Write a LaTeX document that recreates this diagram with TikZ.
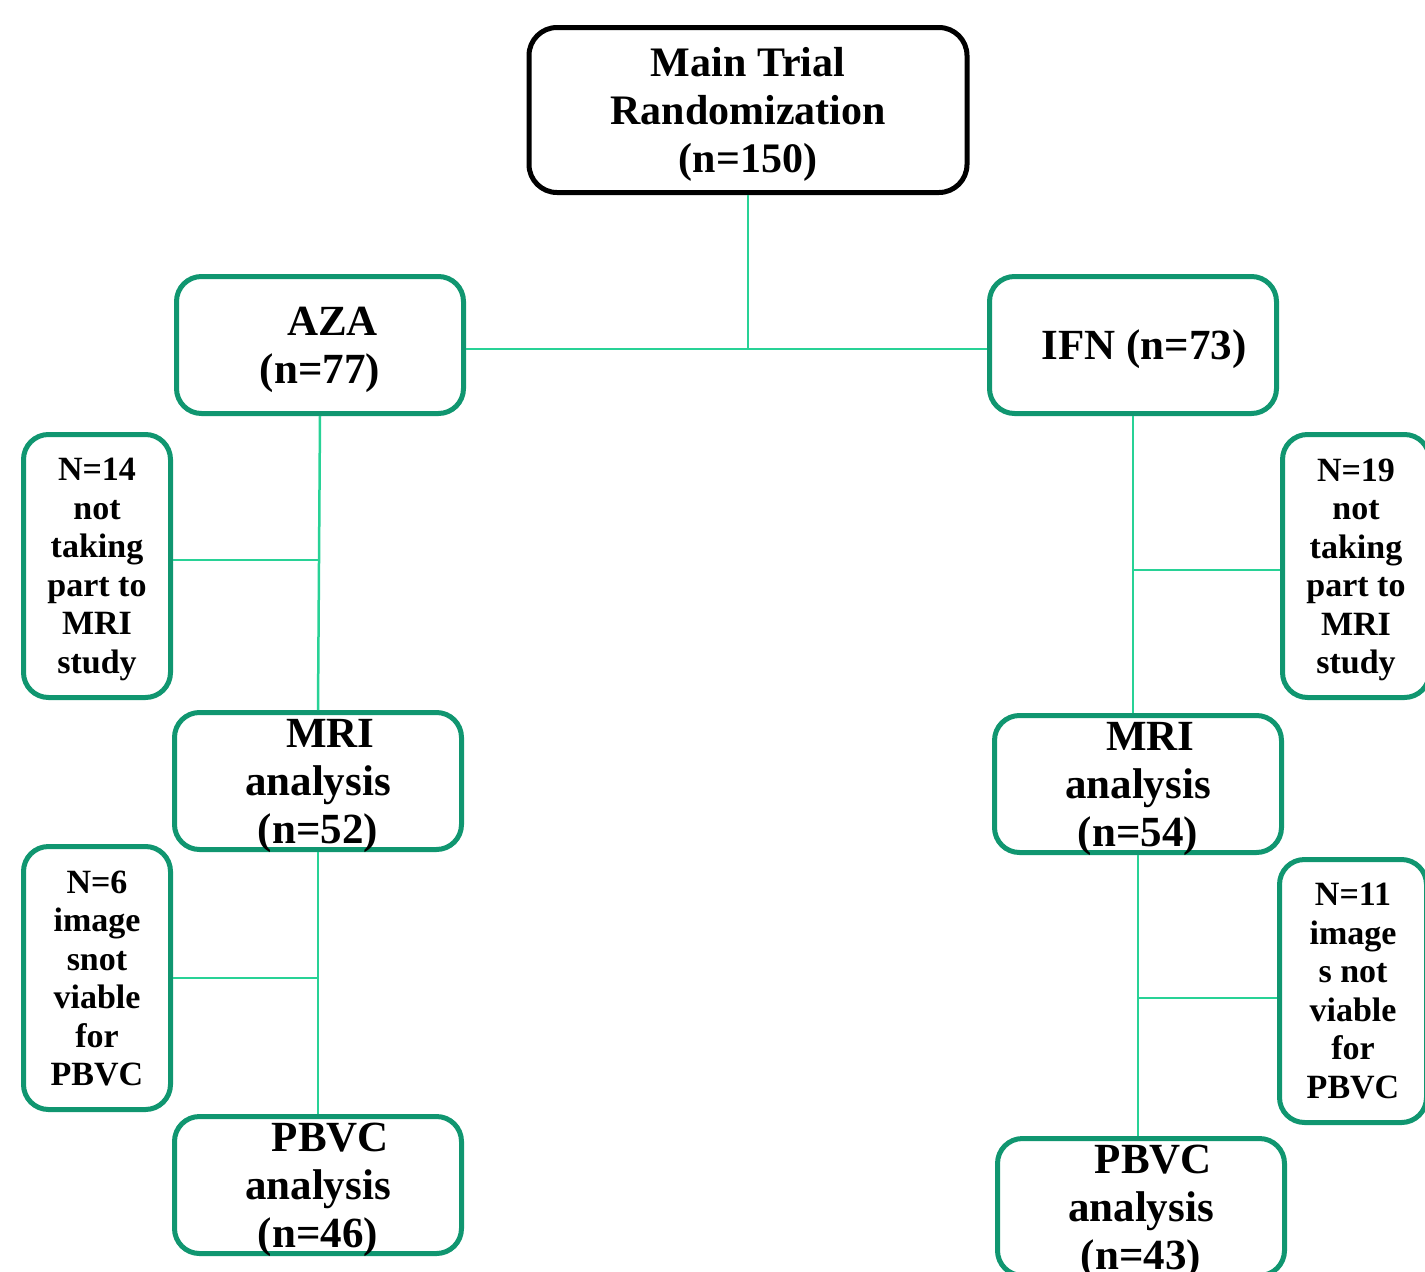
\documentclass[tikz,border=0pt]{standalone}
\usepackage{fontspec}
\setmainfont{Liberation Serif}
\definecolor{boxgreen}{RGB}{16,150,112}
\definecolor{linegreen}{RGB}{40,210,150}
\tikzset{
  mainbox/.style={draw=black, line width=5pt, rounded corners=28pt,
    minimum width=438pt, minimum height=165pt, inner sep=0pt, align=center,
    text depth=0pt, font=\fontsize{42}{48}\selectfont\bfseries},
  armbox/.style={draw=boxgreen, line width=5pt, rounded corners=25pt,
    minimum width=287pt, minimum height=137pt, inner sep=0pt, align=center,
    text depth=0pt, font=\fontsize{43}{48}\selectfont\bfseries},
  sidebox/.style={draw=boxgreen, line width=5pt, rounded corners=25pt,
    minimum width=147pt, minimum height=263pt, inner sep=0pt, align=center,
    text depth=0pt, font=\fontsize{34}{38.5}\selectfont\bfseries},
  link/.style={linegreen, line width=2.5pt}
}
\begin{document}
\begin{tikzpicture}[x=1pt,y=-1pt]
      \useasboundingbox (0,0) rectangle (1425,1272);
      \draw
        (748,110) node[mainbox] (main){Main Trial\\Randomization\\(n=150)}
        (320,345) node[armbox] (aza){\hspace{25pt}AZA\\(n=77)}
        (1133,345) node[armbox] (ifn){\hspace{22pt}IFN (n=73)}
        (97,566) node[sidebox] (n14){N=14\\not\\taking\\part to\\MRI\\study}
        (318,781) node[armbox] (mril){\hspace{25pt}MRI\\analysis\\(n=52)}
        (97,978) node[sidebox] (n6){N=6\\image\\snot\\viable\\for\\PBVC}
        (318,1185) node[armbox] (pbvcl){\hspace{25pt}PBVC\\analysis\\(n=46)}
        (1356,566) node[sidebox] (n19){N=19\\not\\taking\\part to\\MRI\\study}
        (1138,784) node[armbox] (mrir){\hspace{25pt}MRI\\analysis\\(n=54)}
        (1353,991) node[sidebox] (n11){N=11\\image\\s not\\viable\\for\\PBVC}
        (1141,1207) node[armbox] (pbvcr){\hspace{25pt}PBVC\\analysis\\(n=43)};
      % junction points
      \coordinate (azaout) at ([yshift=-4pt]aza.east);
      \coordinate (ifnin) at ([yshift=-4pt]ifn.west);
      \coordinate (n14out) at ([yshift=6pt]n14.east);
      \coordinate (n19in) at ([yshift=-4pt]n19.west);
      \coordinate (n11in) at ([yshift=-7pt]n11.west);
      \begin{scope}[link]
        \draw (main.south) to (main.south |- azaout);
        \draw (azaout) to (ifnin);
        \draw (aza.south) to (mril.north);
        \draw (n14out) to (n14out -| aza.south);
        \draw (mril.south) to (pbvcl.north);
        \draw (n6.east) to (n6.east -| mril.south);
        \draw (ifn.south) to (ifn.south |- mrir.north);
        \draw (n19in) to (n19in -| ifn.south);
        \draw (mrir.south) to (mrir.south |- pbvcr.north);
        \draw (n11in) to (n11in -| mrir.south);
      \end{scope}
    \end{tikzpicture}
\end{document}
